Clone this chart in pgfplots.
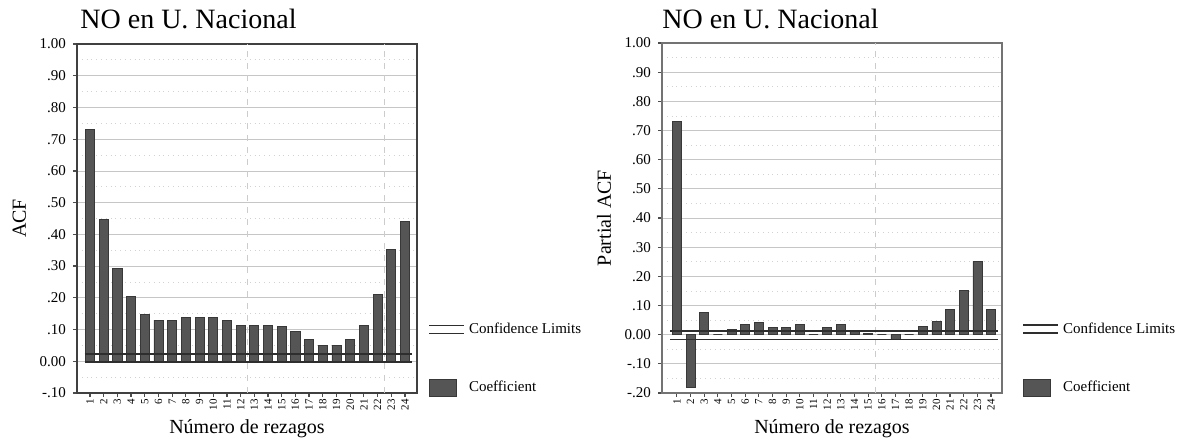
\documentclass[border=0pt]{standalone}
\usepackage{fontspec}
\setmainfont{Liberation Serif}
\usepackage{pgfplots}
\pgfplotsset{compat=1.18}

\definecolor{barfill}{HTML}{555555}
\definecolor{baredge}{HTML}{383838}
\definecolor{limitcol}{HTML}{2E2E2E}

\pgfplotsset{
  acfstyle/.style={
    scale only axis,
    width=170pt,
    xtick=data,
    xticklabels={1,2,3,4,5,6,7,8,9,10,11,12,13,14,15,16,17,18,19,20,21,22,23,24},
    xticklabel style={rotate=90, anchor=east, font=\fontsize{5.5}{6}\selectfont, inner sep=1pt},
    yticklabel style={font=\fontsize{7.5}{9}\selectfont},
    xtick pos=bottom, ytick pos=left,
    tick align=outside,
    major tick length=2pt,
    minor tick length=0pt,
    tick style={black!70, line width=0.6pt},
    ymajorgrids,
    major grid style={gray!45, line width=0.4pt},
    minor y tick num=1,
    yminorgrids,
    minor grid style={gray!35, dotted, line width=0.4pt},
    extra x ticks={12.5,22.5},
    extra x tick labels={},
    extra x tick style={grid=major, major grid style={gray!40, dashed, line width=0.4pt}, major tick length=0pt},
    xlabel={Número de rezagos},
    xlabel style={font=\fontsize{10}{12}\selectfont, yshift=2pt},
    ylabel style={font=\fontsize{10}{12}\selectfont},
    legend style={draw=none, fill=none, font=\fontsize{7.5}{9}\selectfont,
      row sep=18.5pt, inner sep=0pt, anchor=north west},
    legend cell align=left,
    reverse legend,
  },
  barstyle/.style={ybar, bar width=0.66, fill=barfill, draw=baredge, line width=0.4pt,
    legend image code/.code={\draw[fill=barfill, draw=baredge] (0pt,-4.25pt) rectangle (13.5pt,4.25pt);}},
  limitstyle/.style={limitcol, line width=0.9pt,
    legend image code/.code={\draw[limitcol, line width=0.9pt] (0pt,2pt)--(17.5pt,2pt);
      \draw[limitcol, line width=0.9pt] (0pt,-2pt)--(17.5pt,-2pt);}},
}

\begin{document}
\begin{tikzpicture}
\useasboundingbox (0,0) rectangle (592pt,219.5pt);

% Autocorrelation function
\begin{axis}[acfstyle,
  at={(38.5pt,23pt)}, anchor=south west,
  height=174.5pt,
  xmin=0.05, xmax=24.88,
  ymin=-0.1, ymax=1.0,
  ytick={-0.1,0,0.1,0.2,0.3,0.4,0.5,0.6,0.7,0.8,0.9,1.0},
  yticklabels={-.10,0.00,.10,.20,.30,.40,.50,.60,.70,.80,.90,1.00},
  axis line style={black!75, line width=0.6pt},
  ylabel={ACF},
  legend style={at={(1.032,0.214)}},
]
\addplot[barstyle] coordinates {
  (1,0.730) (2,0.448) (3,0.293) (4,0.204) (5,0.147) (6,0.130)
  (7,0.130) (8,0.137) (9,0.138) (10,0.138) (11,0.130) (12,0.114)
  (13,0.114) (14,0.114) (15,0.109) (16,0.093) (17,0.070) (18,0.049)
  (19,0.049) (20,0.070) (21,0.114) (22,0.210) (23,0.352) (24,0.440)};
\addlegendentry{Coefficient}
\addplot[limitstyle] coordinates {(0.6,0.022) (24.5,0.022)};
\addlegendentry{Confidence Limits}
\addplot[limitstyle, line width=0.6pt, forget plot] coordinates {(0.6,-0.002) (24.5,-0.002)};
\end{axis}

% Partial autocorrelation function
\begin{axis}[acfstyle,
  at={(331pt,23pt)}, anchor=south west,
  height=175pt,
  xmin=-0.09, xmax=24.8,
  ymin=-0.2, ymax=1.0,
  ytick={-0.2,-0.1,0,0.1,0.2,0.3,0.4,0.5,0.6,0.7,0.8,0.9,1.0},
  yticklabels={-.20,-.10,0.00,.10,.20,.30,.40,.50,.60,.70,.80,.90,1.00},
  axis line style={black!55, line width=0.6pt},
  extra x ticks={15.5},
  ylabel={Partial ACF},
  legend style={at={(1.0587,0.214)}},
]
\addplot[barstyle] coordinates {
  (1,0.732) (2,-0.180) (3,0.075) (4,0.000) (5,0.017) (6,0.035)
  (7,0.042) (8,0.025) (9,0.025) (10,0.035) (11,0.000) (12,0.025)
  (13,0.035) (14,0.012) (15,0.004) (16,0.000) (17,-0.017) (18,0.000)
  (19,0.027) (20,0.044) (21,0.086) (22,0.152) (23,0.251) (24,0.086)};
\addlegendentry{Coefficient}
\addplot[limitstyle] coordinates {(0.5,0.012) (24.5,0.012)};
\addlegendentry{Confidence Limits}
\addplot[limitstyle, line width=0.6pt, forget plot] coordinates {(0.5,-0.016) (24.5,-0.016)};
\end{axis}

% Chart titles
\node[anchor=base west, font=\fontsize{14}{16}\selectfont, inner sep=0pt] at (40pt,205pt) {NO en U. Nacional};
\node[anchor=base west, font=\fontsize{14}{16}\selectfont, inner sep=0pt] at (331pt,205pt) {NO en U. Nacional};
\end{tikzpicture}
\end{document}
